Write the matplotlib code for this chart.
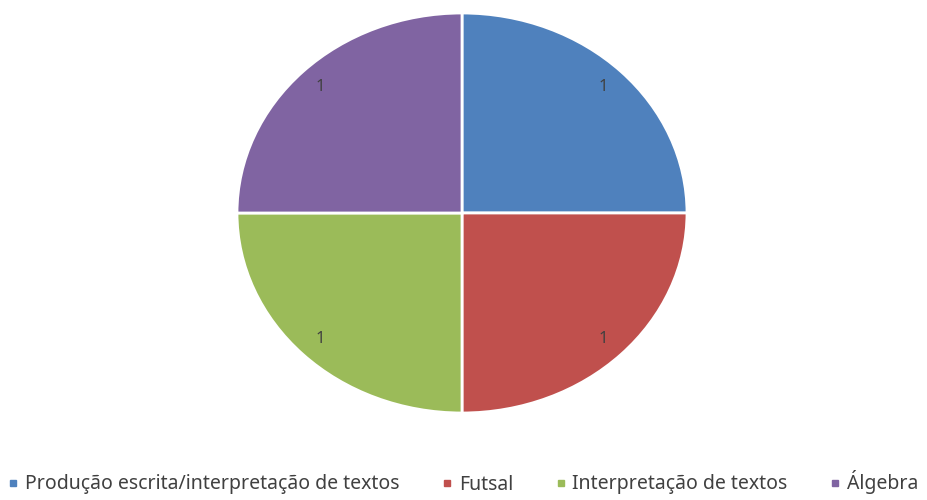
import matplotlib.pyplot as plt
from matplotlib.lines import Line2D

categories = ["Produção escrita/interpretação de textos", "Futsal",
              "Interpretação de textos", "Álgebra"]
values = [1, 1, 1, 1]
colors = ["#4F81BD", "#C0504D", "#9BBB59", "#8064A2"]

plt.rcParams['font.family'] = ['Noto Sans', 'DejaVu Sans']

fig = plt.figure(figsize=(9.27, 5.0), dpi=100)
ax = fig.add_axes([237 / 927, 87 / 500, 450 / 927, 400 / 500])

wedges, texts = ax.pie(values, labels=[str(v) for v in values], colors=colors,
                       startangle=90, counterclock=False, labeldistance=0.89,
                       wedgeprops=dict(edgecolor='white', linewidth=2),
                       textprops=dict(color='#404040', fontsize=12))
for t in texts:
    t.set_ha('center')
    t.set_va('center')
ax.set_aspect('auto')
ax.set_xlim(-1, 1)
ax.set_ylim(-1, 1)

handles = [Line2D([], [], marker='s', linestyle='', markersize=5,
                  markerfacecolor=c, markeredgecolor=c) for c in colors]
fig.legend(handles, categories, loc='lower center', ncol=4, frameon=False,
           bbox_to_anchor=(0.5, -0.024), fontsize=14, handlelength=0.5,
           handletextpad=0.35, columnspacing=2.2, labelcolor='#404040')

fig.savefig('out.png', dpi=100)
